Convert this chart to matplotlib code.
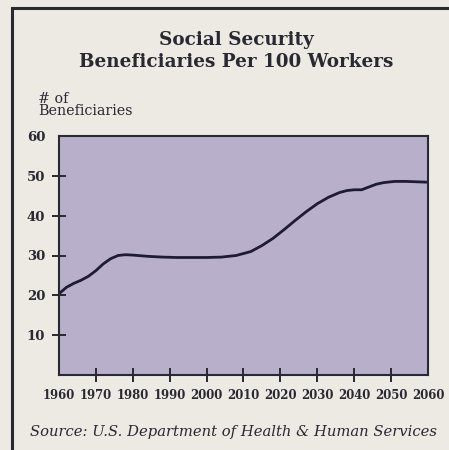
"""Social Security beneficiaries per 100 workers."""

import matplotlib

matplotlib.use("Agg")

import matplotlib.pyplot as plt
from matplotlib.patches import Rectangle

years = [1960, 1962, 1964, 1966, 1968, 1970, 1972, 1974, 1976, 1978,
         1980, 1984, 1988, 1992, 1996, 2000, 2004, 2008, 2012, 2015,
         2018, 2021, 2024, 2027, 2030, 2033, 2036, 2038, 2040, 2042,
         2044, 2046, 2048, 2051, 2054, 2057, 2060]
beneficiaries = [20.4, 22.0, 23.0, 23.8, 24.8, 26.2, 27.9, 29.2, 30.0, 30.2,
                 30.1, 29.8, 29.6, 29.5, 29.5, 29.5, 29.6, 30.0, 31.0, 32.5,
                 34.3, 36.5, 38.8, 41.0, 43.0, 44.6, 45.8, 46.3, 46.5, 46.5,
                 47.2, 47.9, 48.3, 48.6, 48.6, 48.5, 48.4]

x_ticks = list(range(1960, 2061, 10))
y_ticks = [10, 20, 30, 40, 50, 60]

BG = "#ECEAE3"
FACE = "#B8B0CB"
INK = "#2A2830"
LINE = "#1F1B33"
SERIF = ["DejaVu Serif"]

fig = plt.figure(figsize=(4.49, 4.5), dpi=100)
fig.patch.set_facecolor(BG)

# внешняя рамка (видны только левая и верхняя стороны)
fig.patches.append(Rectangle((12 / 449, -0.2), 1.2, 1.2 - 8 / 450,
                             transform=fig.transFigure, fill=False,
                             edgecolor=INK, linewidth=2.2))

ax = fig.add_axes([59 / 449, 1 - 375 / 450, 369 / 449, 239 / 450])
ax.set_facecolor(FACE)
ax.plot(years, beneficiaries, color=LINE, linewidth=2.0, solid_capstyle="round")

ax.set_xlim(1960, 2060)
ax.set_ylim(0, 60)
ax.set_xticks(x_ticks)
ax.set_yticks(y_ticks)
ax.set_xticklabels([str(y) for y in x_ticks])
ax.set_yticklabels([str(v) for v in y_ticks])

for spine in ax.spines.values():
    spine.set_color(INK)
    spine.set_linewidth(1.5)

ax.tick_params(axis="both", direction="inout", length=10, width=1.4,
               color=INK, labelcolor=INK, labelsize=8.4, pad=5)
ax.tick_params(axis="y", labelsize=9.5)
for lbl in ax.get_xticklabels() + ax.get_yticklabels():
    lbl.set_family(SERIF)
    lbl.set_fontweight("bold")

# крайние деления совпадают с рамкой осей
ax.xaxis.get_major_ticks()[0].tick1line.set_visible(False)
ax.xaxis.get_major_ticks()[-1].tick1line.set_visible(False)
ax.yaxis.get_major_ticks()[-1].tick1line.set_visible(False)

fig.text(236 / 449, 1 - 40 / 450, "Social Security", ha="center", va="center",
         family=SERIF, fontweight="bold", fontsize=13.2, color=INK)
fig.text(236 / 449, 1 - 62 / 450, "Beneficiaries Per 100 Workers", ha="center",
         va="center", family=SERIF, fontweight="bold", fontsize=13.2, color=INK)

fig.text(38 / 449, 1 - 105 / 450, "# of\nBeneficiaries", ha="left", va="center",
         family=SERIF, fontsize=10.3, color=INK, linespacing=0.8)

fig.text(233 / 449, 1 - 432 / 450,
         "Source: U.S. Department of Health & Human Services",
         ha="center", va="center", family=SERIF, style="italic",
         fontsize=10.6, color=INK)

plt.savefig("out.png", dpi=100, facecolor=BG)
plt.close(fig)
